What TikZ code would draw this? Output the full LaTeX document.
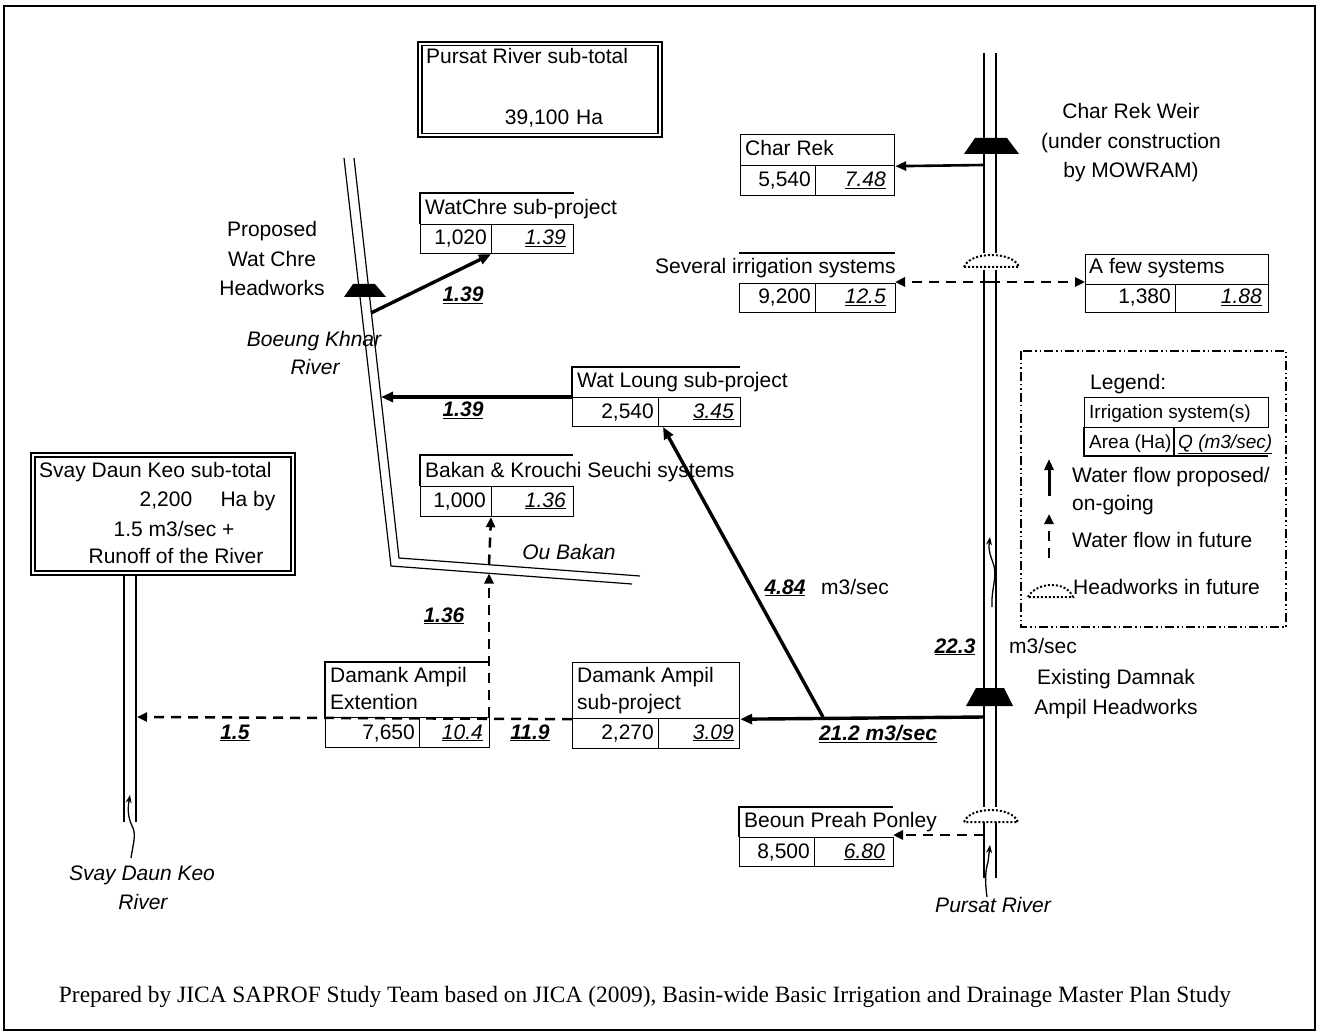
\documentclass[tikz,border=0pt]{standalone}
\usepackage{fontspec}
\setmainfont{Liberation Sans}
\newfontfamily\serifcap{Liberation Serif}
\usetikzlibrary{arrows.meta}
\newcommand\fsz{\fontsize{21}{25}\selectfont}
\newcommand\fsl{\fontsize{19}{23}\selectfont}
\newcommand\bnum[1]{\underline{\textbf{\textit{#1}}}}
\newcommand\inum[1]{\underline{\textit{#1}}}
\begin{document}
\begin{tikzpicture}[x=1pt,y=-1pt,
  txt/.style={inner sep=0pt,font=\fsz},
  itx/.style={inner sep=0pt,font=\fsz\itshape},
  ltx/.style={inner sep=0pt,font=\fsl},
  ln/.style={line width=1.2pt},
  riv/.style={line width=1.2pt},
  cell/.style={draw,line width=1.2pt,inner sep=0pt,anchor=north west},
  flowT/.style={line width=3.4pt,-{Triangle[length=12pt,width=10pt]}},
  flowM/.style={line width=2.6pt,-{Triangle[length=11pt,width=9pt]}},
  fut/.style={line width=2.5pt,dash pattern=on 10pt off 7pt,-{Triangle[length=10pt,width=9pt]}},
  wavy/.style={line width=1.3pt,-{Stealth[length=8pt,width=6pt]}},
  weir/.style={fill=black},
  dome/.style={line width=2pt,dotted}
]
\useasboundingbox (0,0) rectangle (1318,1032);
\draw[line width=1.5pt] (4,6) rectangle (1315,1030);

% ---------- Pursat River sub-total ----------
\draw[ln] (418,42) rectangle (662,137);
\draw[ln] (422,45.5) rectangle (658,133.5);
\node[txt,anchor=base west] (pst) at (426,64) {Pursat River sub-total};
\node[txt,anchor=base] (psv) at (554,125) {39,100\hspace{7pt}Ha};

% ---------- Boeung Khnar river ----------
\draw[riv] (344,158) -- (391,566) -- (632,584);
\draw[riv] (354,158) -- (399,558) -- (640,576);
\fill[weir] (353,284) -- (375,284) -- (386,297) -- (344,297) -- cycle;
\node[txt,anchor=base] (pw1) at (272,237) {Proposed};
\node[txt,anchor=base] (pw2) at (272,267) {Wat Chre};
\node[txt,anchor=base] (pw3) at (272,296) {Headworks};
\node[itx,anchor=base] (bk1) at (314,347) {Boeung Khnar};
\node[itx,anchor=base] (bk2) at (315,375) {River};
\node[itx,anchor=base] (oub) at (569,559) {Ou Bakan};

% ---------- Pursat River ----------
\draw[riv] (984,53) -- (984,253) (996,53) -- (996,253);
\draw[riv] (984,270) -- (984,807) (996,270) -- (996,807);
\draw[riv] (984,822) -- (984,878) (996,822) -- (996,878);
\fill[weir] (975,138) -- (1007,138) -- (1019,154) -- (964,154) -- cycle;
\fill[weir] (976,688) -- (1004,688) -- (1013,706) -- (966,706) -- cycle;
\draw[dome] (964,267) .. controls (970,251) and (1013,251) .. (1019,267) -- cycle;
\draw[dome] (964,822) .. controls (970,806) and (1012,806) .. (1018,822) -- cycle;
\node[txt,anchor=base] (cw1) at (1131,119) {Char Rek Weir};
\node[txt,anchor=base] (cw2) at (1131,149) {(under construction};
\node[txt,anchor=base] (cw3) at (1131,178) {by MOWRAM)};
\node[txt,anchor=base] (ed1) at (1116,684) {Existing Damnak};
\node[txt,anchor=base] (ed2) at (1116,714) {Ampil Headworks};
\node[itx,anchor=base] (psr) at (993,912) {Pursat River};
\coordinate (pw1s) at (992,607);
\coordinate (pw1e) at (990,537);
\draw[wavy] (pw1s) .. controls (991,590) and (997,578) .. (994,566) .. controls (991,556) and (988,552) .. (pw1e);
\coordinate (pw2s) at (987,897);
\coordinate (pw2e) at (990,845);
\draw[wavy] (pw2s) .. controls (985,882) and (985,872) .. (988,862) -- (pw2e);

% ---------- Svay Daun Keo ----------
\draw[ln] (31,453) rectangle (295,575);
\draw[ln] (35,457) rectangle (291,571);
\node[txt,anchor=base west] (sd1) at (39,477) {Svay Daun Keo sub-total};
\node[txt,anchor=base] (sd2) at (166,506) {2,200};
\node[txt,anchor=base] (sd3) at (248,506) {Ha by};
\node[txt,anchor=base] (sd4) at (174,536) {1.5 m3/sec +};
\node[txt,anchor=base] (sd5) at (176,563) {Runoff of the River};
\draw[riv] (124,575) -- (124,822) (136,575) -- (136,822);
\node[itx,anchor=base] (sv1) at (142,880) {Svay Daun Keo};
\node[itx,anchor=base] (sv2) at (143,909) {River};
\coordinate (svs) at (131,858);
\coordinate (sve) at (130,795);
\draw[wavy] (svs) .. controls (133,845) and (136,835) .. (133,828) .. controls (129,820) and (127,812) .. (sve);

% ---------- WatChre ----------
\draw[ln] (420,224) |- (574,193);
\node[cell,minimum width=71,minimum height=29] (wca) at (420,224) {};
\node[cell,minimum width=82,minimum height=29] (wcq) at (491,224) {};
\node[txt,anchor=base west] (wct) at (425,215) {WatChre sub-project};
\node[txt,anchor=base east] (wcn) at (487,245) {1,020};
\node[txt,anchor=base east] (wcv) at (566,245) {\inum{1.39}};

% ---------- Char Rek ----------
\node[cell,minimum width=154,minimum height=31] (crh) at (740,134) {};
\node[cell,minimum width=75,minimum height=30] (cra) at (740,165) {};
\node[cell,minimum width=79,minimum height=30] (crq) at (815,165) {};
\node[txt,anchor=base west] (crt) at (745,156) {Char Rek};
\node[txt,anchor=base east] (crn) at (811,187) {5,540};
\node[txt,anchor=base east] (crv) at (886,187) {\inum{7.48}};

% ---------- Several irrigation systems ----------
\draw[ln] (739,253) -- (895,253);
\node[cell,minimum width=76,minimum height=29] (sva) at (739,283) {};
\node[cell,minimum width=80,minimum height=29] (svq) at (815,283) {};
\node[txt,anchor=base west] (svt) at (655,274) {Several irrigation systems};
\node[txt,anchor=base east] (svn) at (811,304) {9,200};
\node[txt,anchor=base east] (svv) at (886,304) {\inum{12.5}};

% ---------- A few systems ----------
\node[cell,minimum width=183,minimum height=30] (afh) at (1085,254) {};
\node[cell,minimum width=90,minimum height=28] (afa) at (1085,284) {};
\node[cell,minimum width=93,minimum height=28] (afq) at (1175,284) {};
\node[txt,anchor=base west] (aft) at (1089,274) {A few systems};
\node[txt,anchor=base east] (afn) at (1171,304) {1,380};
\node[txt,anchor=base east] (afv) at (1262,304) {\inum{1.88}};

% ---------- Wat Loung ----------
\draw[ln] (572,397) |- (740,367);
\node[cell,minimum width=86,minimum height=29] (wla) at (572,397) {};
\node[cell,minimum width=82,minimum height=29] (wlq) at (658,397) {};
\node[txt,anchor=base west] (wlt) at (577,388) {Wat Loung sub-project};
\node[txt,anchor=base east] (wln) at (654,418) {2,540};
\node[txt,anchor=base east] (wlv) at (734,418) {\inum{3.45}};

% ---------- Bakan ----------
\draw[ln] (420,486) |- (573,455);
\node[cell,minimum width=71,minimum height=30] (bka) at (420,486) {};
\node[cell,minimum width=82,minimum height=30] (bkq) at (491,486) {};
\node[txt,anchor=base west] (bkt) at (425,477) {Bakan \& Krouchi Seuchi systems};
\node[txt,anchor=base east] (bkn) at (486,507) {1,000};
\node[txt,anchor=base east] (bkv) at (566,507) {\inum{1.36}};

% ---------- Damank Ampil Extention ----------
\draw[ln] (325,717) |- (489,662);
\node[cell,minimum width=94,minimum height=30] (dea) at (325,717) {};
\node[cell,minimum width=70,minimum height=30] (deq) at (419,717) {};
\node[txt,anchor=base west] (det1) at (330,682) {Damank Ampil};
\node[txt,anchor=base west] (det2) at (330,709) {Extention};
\node[txt,anchor=base east] (den) at (415,739) {7,650};
\node[txt,anchor=base east] (dev) at (483,739) {\inum{10.4}};

% ---------- Damank Ampil sub-project ----------
\node[cell,minimum width=167,minimum height=56] (dsh) at (572,662) {};
\node[cell,minimum width=86,minimum height=30] (dsa) at (572,718) {};
\node[cell,minimum width=81,minimum height=30] (dsq) at (658,718) {};
\node[txt,anchor=base west] (dst1) at (577,682) {Damank Ampil};
\node[txt,anchor=base west] (dst2) at (577,709) {sub-project};
\node[txt,anchor=base east] (dsn) at (654,739) {2,270};
\node[txt,anchor=base east] (dsv) at (734,739) {\inum{3.09}};

% ---------- Beoun Preah Ponley ----------
\draw[ln] (739,837) |- (893,807);
\node[cell,minimum width=75,minimum height=29] (bpa) at (739,837) {};
\node[cell,minimum width=79,minimum height=29] (bpq) at (814,837) {};
\node[txt,anchor=base west] (bpt) at (744,827) {Beoun Preah Ponley};
\node[txt,anchor=base east] (bpn) at (810,858) {8,500};
\node[txt,anchor=base east] (bpv) at (885,858) {\inum{6.80}};

% ---------- flows ----------
\coordinate (wcst) at (371,313);
\draw[flowT] (wcst) -- (wcq.south west);
\node[txt,anchor=base] (f1) at (463,302) {\bnum{1.39}};

\coordinate (bkr) at (381,397);
\draw[flowT] (wla.north west) -- (bkr);
\node[txt,anchor=base] (f2) at (463,417) {\bnum{1.39}};

\coordinate (crr) at (984,165);
\draw[flowM] (crr) -- (crh.south east);

\coordinate (sfl) at (990,282);
\draw[fut] (sfl) -- (895,282);
\draw[fut] (sfl) -- (1085,282);

\coordinate (dar) at (984,717);
\coordinate (dsp) at (823,717);
\draw[flowT] (dar) -- (dsh.south east);
\draw[flowT] (dsp) -- (663,427);
\node[txt,anchor=base] (f3) at (785,594) {\bnum{4.84}};
\node[txt,anchor=base] (f3u) at (855,594) {m3/sec};
\node[txt,anchor=base] (f4) at (955,653) {\bnum{22.3}};
\node[txt,anchor=base] (f4u) at (1043,653) {m3/sec};
\node[txt,anchor=base] (f5) at (878,740) {\bnum{21.2 m3/sec}};

\coordinate (svr) at (137,717);
\draw[fut] (dsh.south west) -- (svr);
\node[txt,anchor=base] (f6) at (530,739) {\bnum{11.9}};
\node[txt,anchor=base] (f7) at (235,739) {\bnum{1.5}};

\coordinate (dese) at (489,717);
\coordinate (oubl) at (489,573.5);
\coordinate (oubu) at (489,564.5);
\draw[fut] (dese) -- (oubl);
\draw[fut] (oubu) -- (bkq.south west);
\node[txt,anchor=base] (f8) at (444,622) {\bnum{1.36}};

\coordinate (bpr) at (984,835);
\draw[fut] (bpr) -- (893,835);

% ---------- Legend ----------
\draw[line width=1.3pt,dash pattern=on 9pt off 3pt on 1.5pt off 3pt on 1.5pt off 3pt] (1021,351) rectangle (1286,627);
\node[txt,anchor=base west] (lg0) at (1090,389) {Legend:};
\node[cell,minimum width=184,minimum height=30] (lgh) at (1084,397) {};
\draw[ln] (1084,427) |- (1268,456);
\draw[ln] (1174,427) -- (1174,456);
\node[ltx,anchor=base west] (lg1) at (1089,418) {Irrigation system(s)};
\node[ltx,anchor=base west] (lg2) at (1089,448) {Area (Ha)};
\node[ltx,anchor=base west] (lg3) at (1178,448) {\inum{Q (m3/sec)}};
\coordinate (la1) at (1049,496);
\coordinate (la2) at (1049,459);
\draw[line width=3pt,-{Triangle[length=11pt,width=9pt]}] (la1) -- (la2);
\coordinate (lb1) at (1049,558);
\coordinate (lb2) at (1049,514);
\draw[line width=2.5pt,dash pattern=on 10pt off 7pt,-{Triangle[length=10pt,width=9pt]}] (lb1) -- (lb2);
\draw[dome] (1028,597) .. controls (1036,582) and (1066,580) .. (1073,597) -- cycle;
\node[txt,anchor=base west] (lg4) at (1072,482) {Water flow proposed/};
\node[txt,anchor=base west] (lg5) at (1072,510) {on-going};
\node[txt,anchor=base west] (lg6) at (1072,547) {Water flow in future};
\node[txt,anchor=base west] (lg7) at (1073,594) {Headworks in future};

% ---------- caption ----------
\node[inner sep=0pt,anchor=base,font=\serifcap\fontsize{23.4}{28}\selectfont] (cap) at (645,1002) {Prepared by JICA SAPROF Study Team based on JICA (2009), Basin-wide Basic Irrigation and Drainage Master Plan Study};
\end{tikzpicture}
\end{document}
